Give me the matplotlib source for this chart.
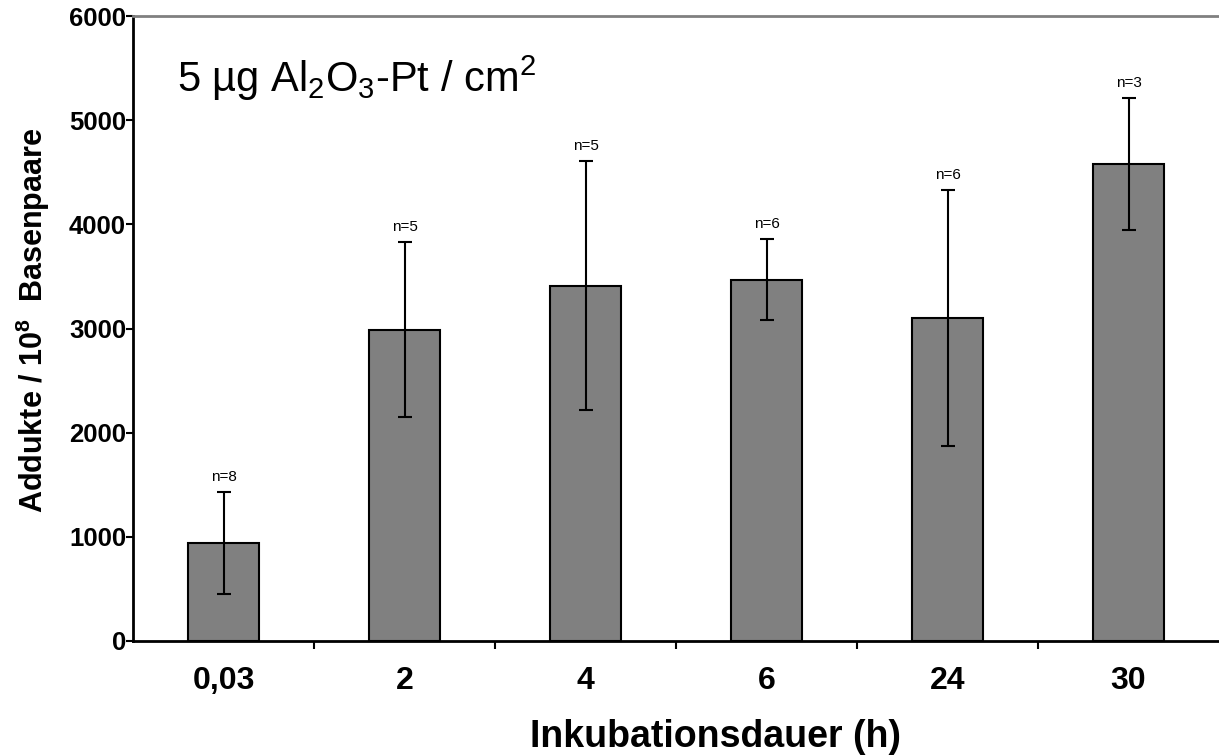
import numpy as np
import matplotlib
matplotlib.use("Agg")
import matplotlib.pyplot as plt

plt.rcParams['font.family'] = ['Liberation Sans', 'DejaVu Sans']
plt.rcParams['mathtext.fontset'] = 'custom'
plt.rcParams['mathtext.rm'] = 'Liberation Sans'
plt.rcParams['mathtext.bf'] = 'Liberation Sans:bold'
plt.rcParams['mathtext.it'] = 'Liberation Sans:italic'

# data
categories = ['0,03', '2', '4', '6', '24', '30']
means = [940, 2990, 3410, 3470, 3100, 4580]
errors = [490, 840, 1195, 390, 1230, 630]
n_counts = [8, 5, 5, 6, 6, 3]

fig = plt.figure(figsize=(12.19, 7.56), dpi=100)
ax = fig.add_axes([133 / 1219, 115 / 756, 1 - 133 / 1219, 625 / 756])

x = np.arange(len(categories))
ax.bar(x, means, width=0.39, color='#808080', edgecolor='black', linewidth=1.5, zorder=2)
ax.errorbar(x, means, yerr=errors, fmt='none', ecolor='black', elinewidth=1.5,
            capsize=5, capthick=1.5, zorder=3)

# sample size labels above the error bars
for xi, m, e, n in zip(x, means, errors, n_counts):
    ax.annotate(f"n={n}", xy=(xi, m + e), xytext=(0, 11), textcoords='offset points',
                ha='center', va='center', fontsize=11)

ax.set_xlim(-0.5, len(categories) - 0.5)
ax.set_ylim(0, 6000)
ax.set_yticks(np.arange(0, 6001, 1000))
ax.set_yticklabels([str(v) for v in range(0, 6001, 1000)], fontsize=18.5, fontweight='bold')
ax.tick_params(axis='y', direction='out', length=5, width=1.5, pad=0)

ax.set_xticks(x)
ax.set_xticklabels(categories, fontsize=23, fontweight='bold')
ax.tick_params(axis='x', which='major', length=0, pad=18)
ax.set_xticks(np.arange(0.5, len(categories) - 1, 1), minor=True)
ax.tick_params(axis='x', which='minor', direction='out', length=6, width=1.5)

ax.spines['right'].set_visible(False)
ax.spines['top'].set_color('#808080')
ax.spines['top'].set_linewidth(2)
ax.spines['left'].set_linewidth(2)
ax.spines['bottom'].set_linewidth(2)

ax.text(182 / 1219 - 133 / 1219, 1 - (92 - 16) / 625,
        r'5 µg Al$_2$O$_3$-Pt / cm$^2$', transform=ax.transAxes,
        fontsize=30, ha='left', va='baseline')

fig.text(715 / 1219, 1 - 737 / 756, 'Inkubationsdauer (h)', fontsize=27,
         fontweight='bold', ha='center', va='center')
fig.text(33 / 1219, 1 - 320 / 756, r'Addukte / 10$^{\mathbf{8}}$  Basenpaare',
         fontsize=22, fontweight='bold', rotation=90, ha='center', va='center')

fig.savefig('out.png', dpi=100)
